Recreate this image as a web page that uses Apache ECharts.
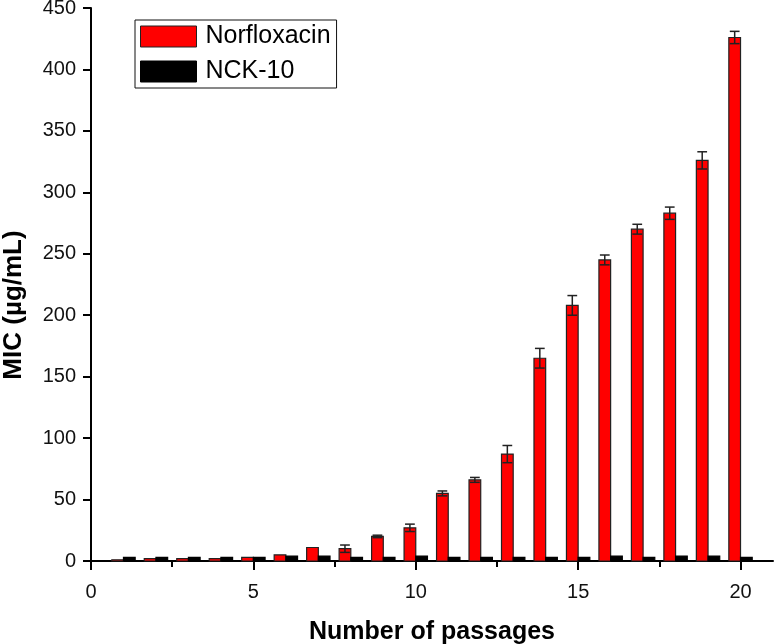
<!DOCTYPE html>
<html>
<head>
<meta charset="utf-8">
<script src="https://cdn.jsdelivr.net/npm/echarts@6/dist/echarts.min.js"></script>
<style>
html,body{margin:0;padding:0;background:#fff;}
#chart{width:774px;height:644px;}
</style>
</head>
<body>
<div id="chart"></div>
<script>
// Data
const passages = [1,2,3,4,5,6,7,8,9,10,11,12,13,14,15,16,17,18,19,20];
const norfloxacin = [1,2,2,2,3,5,11,10,20,27,55,66,87,165,208,245,270,283,326,426];
const norfloxacinErr = [0,0,0,0,0,0,0,3,1,3,2,2,7,8,8,4,4,5,7,5];
const nck10 = [3,3,3,3,3,4,4,3,3,4,3,3,3,3,3,4,3,4,4,3];
const xMajorTicks = [0,5,10,15,20];
const xMinorTicks = [2.5,7.5,12.5,17.5];

const FONT = "'Liberation Sans', Arial, sans-serif";
const BAR_W = 0.36;

function barRenderer(side, fill, stroke) {
  return function (params, api) {
    const x = api.value(0), v = api.value(1);
    const x0 = side < 0 ? x - BAR_W : x;
    const p0 = api.coord([x0, v]);
    const p1 = api.coord([x0 + BAR_W, 0]);
    return {
      type: 'rect',
      shape: {x: p0[0], y: p0[1], width: p1[0] - p0[0], height: p1[1] - p0[1]},
      style: {fill: fill, stroke: stroke, lineWidth: 1.2}
    };
  };
}

function errRenderer(params, api) {
  const x = api.value(0) - BAR_W / 2, v = api.value(1), e = api.value(2);
  if (!e) return null;
  const top = api.coord([x, v + e]);
  const bot = api.coord([x, v - e]);
  const half = (api.coord([x + 0.15, 0])[0] - api.coord([x, 0])[0]);
  const st = {stroke: '#222', lineWidth: 1.5};
  return {
    type: 'group',
    children: [
      {type: 'line', shape: {x1: top[0], y1: top[1], x2: bot[0], y2: bot[1]}, style: st},
      {type: 'line', shape: {x1: top[0] - half, y1: top[1], x2: top[0] + half, y2: top[1]}, style: st},
      {type: 'line', shape: {x1: bot[0] - half, y1: bot[1], x2: bot[0] + half, y2: bot[1]}, style: st}
    ]
  };
}

const chart = echarts.init(document.getElementById('chart'), null, {renderer: 'canvas'});
chart.setOption({
  animation: false,
  backgroundColor: '#fff',
  textStyle: {fontFamily: FONT},
  grid: {left: 91, right: 1, top: 8, bottom: 83, containLabel: false, outerBoundsMode: 'none'},
  legend: {
    orient: 'vertical',
    left: 135,
    top: 20,
    itemWidth: 56,
    itemHeight: 21,
    itemGap: 10,
    padding: [4, 6, 4, 5],
    borderColor: '#111',
    borderWidth: 1,
    backgroundColor: '#fff',
    selectedMode: false,
    textStyle: {fontFamily: FONT, fontSize: 25, color: '#000', lineHeight: 22, padding: [0, 0, 0, 4]},
    data: [
      {name: 'Norfloxacin', icon: 'rect', itemStyle: {color: '#ff0000', borderColor: '#222', borderWidth: 1}},
      {name: 'NCK-10', icon: 'rect', itemStyle: {color: '#000', borderColor: '#000', borderWidth: 1}}
    ]
  },
  xAxis: [
    {
      type: 'value', min: 0, max: 21, position: 'bottom',
      axisLine: {show: true, onZero: false, lineStyle: {color: '#000', width: 2}},
      axisTick: {show: true, inside: false, customValues: xMajorTicks, length: 9, lineStyle: {color: '#000', width: 2}},
      axisLabel: {customValues: xMajorTicks, fontSize: 20, color: '#111', margin: 21, fontFamily: FONT},
      splitLine: {show: false},
      name: 'Number of passages',
      nameLocation: 'middle',
      nameGap: 59,
      nameTextStyle: {fontFamily: FONT, fontWeight: 'bold', fontSize: 25, color: '#000'}
    },
    {
      type: 'value', min: 0, max: 21, position: 'bottom',
      axisLine: {show: false, onZero: false},
      axisTick: {show: true, inside: false, customValues: xMinorTicks, length: 6, lineStyle: {color: '#000', width: 2}},
      axisLabel: {show: false},
      splitLine: {show: false}
    }
  ],
  yAxis: {
    type: 'value', min: 0, max: 450, interval: 50,
    axisLine: {show: true, lineStyle: {color: '#000', width: 2}},
    axisTick: {show: true, inside: false, length: 8, lineStyle: {color: '#000', width: 2}},
    axisLabel: {fontSize: 20, color: '#111', margin: 15, fontFamily: FONT},
    splitLine: {show: false},
    name: 'MIC (µg/mL)',
    nameLocation: 'middle',
    nameGap: 64,
    nameTextStyle: {fontFamily: FONT, fontWeight: 'bold', fontSize: 26, color: '#000', padding: [0, 41, 0, 0]}
  },
  series: [
    {
      name: 'Norfloxacin', type: 'custom', xAxisIndex: 0,
      itemStyle: {color: '#ff0000', borderColor: '#222', borderWidth: 1},
      renderItem: barRenderer(-1, '#ff0000', '#222'),
      encode: {x: 0, y: 1},
      data: passages.map((p, i) => [p, norfloxacin[i]]),
      z: 2
    },
    {
      name: 'NCK-10', type: 'custom', xAxisIndex: 0,
      itemStyle: {color: '#000'},
      renderItem: barRenderer(1, '#000', '#000'),
      encode: {x: 0, y: 1},
      data: passages.map((p, i) => [p, nck10[i]]),
      z: 2
    },
    {
      name: 'Norfloxacin error', type: 'custom', xAxisIndex: 0,
      renderItem: errRenderer,
      encode: {x: 0, y: 1},
      data: passages.map((p, i) => [p, norfloxacin[i], norfloxacinErr[i]]),
      z: 3
    }
  ]
});
</script>
</body>
</html>
